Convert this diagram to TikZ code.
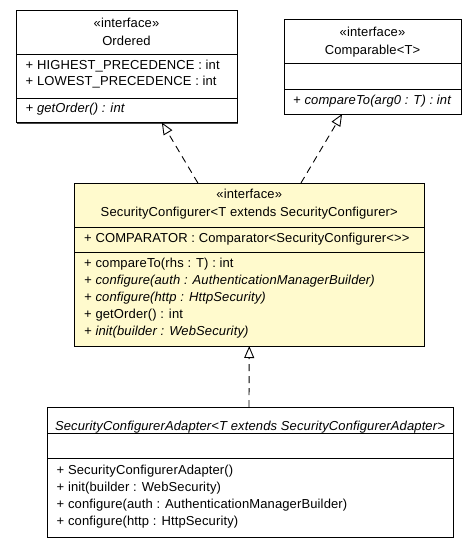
\documentclass[tikz,border=0pt]{standalone}
\usepackage{fontspec}
\setmainfont{Liberation Sans}[LetterSpace=1]
\usetikzlibrary{arrows.meta,calc,shadows}
\definecolor{classyellow}{RGB}{255,250,205}
\definecolor{shadowgray}{RGB}{70,70,70}
\begin{document}
\begin{tikzpicture}[x=1pt,y=-1pt,
  umlbox/.style={draw=black, line width=0.9pt, anchor=north west, inner sep=0pt, outer sep=0pt,
    drop shadow={shadow xshift=1.3pt, shadow yshift=-1.3pt, fill=shadowgray, opacity=1}},
  plainbox/.style={umlbox, fill=white},
  hlbox/.style={umlbox, fill=classyellow},
  sepline/.style={draw=black, line width=0.9pt},
  txt/.style={anchor=west, inner sep=0pt, text height=9.5pt, text depth=2.6pt, font=\fontsize{13}{15}\selectfont},
  ctxt/.style={txt, anchor=center},
  itxt/.style={txt, font=\fontsize{13}{15}\selectfont\itshape},
  citxt/.style={ctxt, font=\fontsize{13}{15}\selectfont\itshape},
  realize/.style={line width=0.9pt, dash pattern=on 7pt off 5pt,
    -{Triangle[open, length=12pt, width=10pt, fill=white]}}
]
\useasboundingbox[fill=white] (0,0) rectangle (476,547);

% --- boxes ---
\node[plainbox, minimum width=221pt, minimum height=112.5pt] (ord) at (16,10) {};
\node[plainbox, minimum width=177pt, minimum height=95pt] (cmp) at (284,19) {};
\node[hlbox, minimum width=349.5pt, minimum height=163pt] (sc) at (74.5,183) {};
\node[plainbox, minimum width=406pt, minimum height=130pt] (ad) at (47,407) {};

% --- compartment separators ---
\draw[sepline] ($(ord.north west)+(0,44)$) -- ($(ord.north east)+(0,44)$);
\draw[sepline] ($(ord.north west)+(0,88)$) -- ($(ord.north east)+(0,88)$);
\draw[sepline] ($(cmp.north west)+(0,44)$) -- ($(cmp.north east)+(0,44)$);
\draw[sepline] ($(cmp.north west)+(0,70)$) -- ($(cmp.north east)+(0,70)$);
\draw[sepline] ($(sc.north west)+(0,44)$) -- ($(sc.north east)+(0,44)$);
\draw[sepline] ($(sc.north west)+(0,69)$) -- ($(sc.north east)+(0,69)$);
\draw[sepline] ($(ad.north west)+(0,26)$) -- ($(ad.north east)+(0,26)$);
\draw[sepline] ($(ad.north west)+(0,51)$) -- ($(ad.north east)+(0,51)$);

% --- Ordered ---
\node[ctxt] (ordst) at (126.5,24) {«interface»};
\node[ctxt] (ordnm) at (126.5,42) {Ordered};
\node[txt] (orda1) at (25.5,66) {+ HIGHEST\_PRECEDENCE : int};
\node[txt] (orda2) at (25.5,82) {+ LOWEST\_PRECEDENCE : int};
\node[itxt] (ordm1) at (25.5,109) {+ getOrder() : int};

% --- Comparable ---
\node[ctxt] (cmpst) at (372.5,33) {«interface»};
\node[ctxt] (cmpnm) at (372.5,51) {Comparable<T>};
\node[itxt] (cmpm1) at (293,101) {+ compareTo(arg0 : T) : int};

% --- SecurityConfigurer ---
\node[ctxt] (scst) at (249.25,195) {«interface»};
\node[ctxt] (scnm) at (249.25,213) {SecurityConfigurer<T extends SecurityConfigurer>};
\node[txt] (sca1) at (84,239) {+ COMPARATOR : Comparator<SecurityConfigurer<{}>{}>};
\node[txt] (scm1) at (84,264) {+ compareTo(rhs : T) : int};
\node[itxt] (scm2) at (84,281) {+ configure(auth : AuthenticationManagerBuilder)};
\node[itxt] (scm3) at (84,298) {+ configure(http : HttpSecurity)};
\node[txt] (scm4) at (84,315) {+ getOrder() : int};
\node[itxt] (scm5) at (84,332) {+ init(builder : WebSecurity)};

% --- SecurityConfigurerAdapter ---
\node[citxt] (adnm) at (250,427) {SecurityConfigurerAdapter<T extends SecurityConfigurerAdapter>};
\node[txt] (adm1) at (56.5,471) {+ SecurityConfigurerAdapter()};
\node[txt] (adm2) at (56.5,488) {+ init(builder : WebSecurity)};
\node[txt] (adm3) at (56.5,505) {+ configure(auth : AuthenticationManagerBuilder)};
\node[txt] (adm4) at (56.5,522) {+ configure(http : HttpSecurity)};

% --- realizations ---
\draw[realize] ($(sc.north west)!0.353!(sc.north east)$) -- ($(ord.south west)!0.66!(ord.south east)$);
\draw[realize] ($(sc.north west)!0.648!(sc.north east)$) -- ($(cmp.south west)!0.328!(cmp.south east)$);
\draw[realize] ($(ad.north west)!0.4975!(ad.north east)$) -- (sc.south);
\end{tikzpicture}
\end{document}
